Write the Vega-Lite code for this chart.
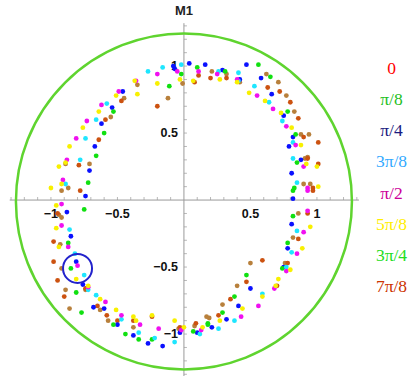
{
  "$schema": "https://vega.github.io/schema/vega-lite/v6.json",
  "padding": 0,
  "background": "white",
  "config": {"view": {"stroke": null}, "concat": {"spacing": 0}},
  "resolve": {"scale": {"x": "independent", "y": "independent", "color": "independent"}},
  "datasets": {
    "pts": [
      {"x":-0.01,"y":0.87,"s":"0"},{"x":-0.12,"y":0.76,"s":"0"},{"x":-0.35,"y":0.86,"s":"0"},{"x":-0.45,"y":0.76,"s":"0"},{"x":-0.55,"y":0.62,"s":"0"},{"x":-0.89,"y":0.27,"s":"0"},{"x":-0.71,"y":0.27,"s":"0"},{"x":-0.87,"y":0.09,"s":"0"},{"x":0.21,"y":0.96,"s":"0"},{"x":0.32,"y":0.94,"s":"0"},{"x":0.42,"y":0.88,"s":"0"},{"x":0.62,"y":0.94,"s":"0"},{"x":0.71,"y":0.88,"s":"0"},{"x":0.77,"y":0.78,"s":"0"},{"x":0.83,"y":0.66,"s":"0"},{"x":0.88,"y":0.49,"s":"0"},{"x":0.94,"y":0.49,"s":"0"},{"x":0.91,"y":0.31,"s":"0"},{"x":0.93,"y":0.32,"s":"0"},{"x":0.90,"y":0.12,"s":"0"},{"x":0.95,"y":0.12,"s":"0"},{"x":-0.92,"y":0.07,"s":"0"},{"x":-0.94,"y":-0.11,"s":"0"},{"x":-0.92,"y":-0.13,"s":"0"},{"x":-0.93,"y":-0.33,"s":"0"},{"x":-0.92,"y":-0.51,"s":"0"},{"x":-0.89,"y":-0.67,"s":"0"},{"x":-0.74,"y":-0.67,"s":"0"},{"x":-0.86,"y":-0.81,"s":"0"},{"x":-0.63,"y":-0.82,"s":"0"},{"x":-0.57,"y":-0.90,"s":"0"},{"x":-0.38,"y":-0.95,"s":"0"},{"x":-0.04,"y":-0.96,"s":"0"},{"x":0.08,"y":-0.94,"s":"0"},{"x":0.17,"y":-0.87,"s":"0"},{"x":0.86,"y":-0.10,"s":"0"},{"x":0.82,"y":-0.28,"s":"0"},{"x":0.50,"y":-0.47,"s":"0"},{"x":0.76,"y":-0.47,"s":"0"},{"x":0.40,"y":-0.64,"s":"0"},{"x":0.29,"y":-0.78,"s":"0"},{"x":0.19,"y":-0.88,"s":"0"},
      {"x":-0.2,"y":0.70,"s":"7π/8"},{"x":-0.47,"y":0.74,"s":"7π/8"},{"x":-0.59,"y":0.60,"s":"7π/8"},{"x":-0.64,"y":0.45,"s":"7π/8"},{"x":-0.79,"y":0.26,"s":"7π/8"},{"x":-0.78,"y":0.07,"s":"7π/8"},{"x":0.11,"y":0.93,"s":"7π/8"},{"x":0.08,"y":0.88,"s":"7π/8"},{"x":0.20,"y":0.91,"s":"7π/8"},{"x":0.32,"y":0.91,"s":"7π/8"},{"x":0.63,"y":0.84,"s":"7π/8"},{"x":0.72,"y":0.81,"s":"7π/8"},{"x":0.80,"y":0.73,"s":"7π/8"},{"x":0.86,"y":0.61,"s":"7π/8"},{"x":0.90,"y":0.47,"s":"7π/8"},{"x":1.01,"y":0.43,"s":"7π/8"},{"x":0.93,"y":0.31,"s":"7π/8"},{"x":1.01,"y":0.27,"s":"7π/8"},{"x":0.97,"y":0.09,"s":"7π/8"},{"x":-0.95,"y":-0.10,"s":"7π/8"},{"x":-0.98,"y":-0.31,"s":"7π/8"},{"x":-0.98,"y":-0.46,"s":"7π/8"},{"x":-0.95,"y":-0.60,"s":"7π/8"},{"x":-0.74,"y":-0.66,"s":"7π/8"},{"x":-0.90,"y":-0.72,"s":"7π/8"},{"x":-0.65,"y":-0.79,"s":"7π/8"},{"x":-0.58,"y":-0.86,"s":"7π/8"},{"x":-0.50,"y":-0.90,"s":"7π/8"},{"x":-0.38,"y":-0.90,"s":"7π/8"},{"x":-0.24,"y":-0.87,"s":"7π/8"},{"x":-0.03,"y":-0.95,"s":"7π/8"},{"x":0.09,"y":-0.92,"s":"7π/8"},{"x":0.97,"y":0.07,"s":"7π/8"},{"x":0.93,"y":-0.10,"s":"7π/8"},{"x":0.86,"y":-0.29,"s":"7π/8"},{"x":0.59,"y":-0.45,"s":"7π/8"},{"x":0.78,"y":-0.47,"s":"7π/8"},{"x":0.47,"y":-0.61,"s":"7π/8"},{"x":0.70,"y":-0.64,"s":"7π/8"},{"x":0.35,"y":-0.74,"s":"7π/8"},{"x":0.26,"y":-0.86,"s":"7π/8"},
      {"x":0.04,"y":1.02,"s":"π/4"},{"x":-0.08,"y":1.0,"s":"π/4"},{"x":-0.07,"y":0.98,"s":"π/4"},{"x":-0.46,"y":0.81,"s":"π/4"},{"x":-0.54,"y":0.69,"s":"π/4"},{"x":-0.62,"y":0.57,"s":"π/4"},{"x":-0.67,"y":0.40,"s":"π/4"},{"x":-0.71,"y":0.22,"s":"π/4"},{"x":0.16,"y":1.01,"s":"π/4"},{"x":0.29,"y":0.97,"s":"π/4"},{"x":0.47,"y":1.01,"s":"π/4"},{"x":0.58,"y":0.91,"s":"π/4"},{"x":0.42,"y":0.90,"s":"π/4"},{"x":0.66,"y":0.79,"s":"π/4"},{"x":0.75,"y":0.63,"s":"π/4"},{"x":0.82,"y":0.47,"s":"π/4"},{"x":0.79,"y":0.40,"s":"π/4"},{"x":0.88,"y":0.30,"s":"π/4"},{"x":0.81,"y":0.20,"s":"π/4"},{"x":-0.74,"y":0.03,"s":"π/4"},{"x":-0.88,"y":-0.09,"s":"π/4"},{"x":-0.85,"y":-0.27,"s":"π/4"},{"x":-0.81,"y":-0.46,"s":"π/4"},{"x":-0.76,"y":-0.63,"s":"π/4"},{"x":-0.68,"y":-0.80,"s":"π/4"},{"x":-0.60,"y":-0.81,"s":"π/4"},{"x":-0.50,"y":-0.93,"s":"π/4"},{"x":-0.38,"y":-1.01,"s":"π/4"},{"x":-0.27,"y":-1.07,"s":"π/4"},{"x":-0.16,"y":-1.09,"s":"π/4"},{"x":-0.03,"y":-0.99,"s":"π/4"},{"x":0.10,"y":-0.99,"s":"π/4"},{"x":0.82,"y":0.01,"s":"π/4"},{"x":0.81,"y":-0.18,"s":"π/4"},{"x":0.78,"y":-0.36,"s":"π/4"},{"x":0.75,"y":-0.50,"s":"π/4"},{"x":0.50,"y":-0.66,"s":"π/4"},{"x":0.41,"y":-0.79,"s":"π/4"},{"x":0.32,"y":-0.89,"s":"π/4"},{"x":0.21,"y":-0.95,"s":"π/4"},
      {"x":-0.02,"y":0.94,"s":"3π/4"},{"x":-0.11,"y":0.85,"s":"3π/4"},{"x":-0.53,"y":0.66,"s":"3π/4"},{"x":-0.60,"y":0.50,"s":"3π/4"},{"x":-0.66,"y":0.33,"s":"3π/4"},{"x":-0.72,"y":0.13,"s":"3π/4"},{"x":0.10,"y":0.99,"s":"3π/4"},{"x":0.31,"y":0.96,"s":"3π/4"},{"x":0.56,"y":1.01,"s":"3π/4"},{"x":0.65,"y":0.92,"s":"3π/4"},{"x":0.78,"y":0.66,"s":"3π/4"},{"x":0.84,"y":0.49,"s":"3π/4"},{"x":0.85,"y":0.28,"s":"3π/4"},{"x":0.83,"y":0.09,"s":"3π/4"},{"x":-0.75,"y":-0.07,"s":"3π/4"},{"x":-0.87,"y":-0.32,"s":"3π/4"},{"x":-0.85,"y":-0.51,"s":"3π/4"},{"x":-0.81,"y":-0.69,"s":"3π/4"},{"x":-0.77,"y":-0.84,"s":"3π/4"},{"x":-0.53,"y":-0.93,"s":"3π/4"},{"x":-0.44,"y":-1.0,"s":"3π/4"},{"x":-0.34,"y":-1.04,"s":"3π/4"},{"x":-0.24,"y":-1.04,"s":"3π/4"},{"x":0.07,"y":-0.98,"s":"3π/4"},{"x":0.18,"y":-0.92,"s":"3π/4"},{"x":0.82,"y":0.07,"s":"3π/4"},{"x":0.82,"y":-0.12,"s":"3π/4"},{"x":0.78,"y":-0.32,"s":"3π/4"},{"x":0.74,"y":-0.51,"s":"3π/4"},{"x":0.47,"y":-0.56,"s":"3π/4"},{"x":0.38,"y":-0.72,"s":"3π/4"},{"x":0.29,"y":-0.84,"s":"3π/4"},{"x":0.18,"y":-0.93,"s":"3π/4"},
      {"x":-0.02,"y":1.01,"s":"3π/8"},{"x":-0.16,"y":0.99,"s":"3π/8"},{"x":-0.27,"y":0.96,"s":"3π/8"},{"x":-0.58,"y":0.72,"s":"3π/8"},{"x":-0.66,"y":0.60,"s":"3π/8"},{"x":-0.74,"y":0.46,"s":"3π/8"},{"x":-0.78,"y":0.30,"s":"3π/8"},{"x":-0.89,"y":0.12,"s":"3π/8"},{"x":0.41,"y":0.95,"s":"3π/8"},{"x":0.41,"y":0.89,"s":"3π/8"},{"x":0.53,"y":0.85,"s":"3π/8"},{"x":0.64,"y":0.73,"s":"3π/8"},{"x":0.74,"y":0.59,"s":"3π/8"},{"x":0.82,"y":0.43,"s":"3π/8"},{"x":0.82,"y":0.31,"s":"3π/8"},{"x":0.85,"y":0.13,"s":"3π/8"},{"x":0.26,"y":0.96,"s":"3π/8"},{"x":-0.86,"y":-0.22,"s":"3π/8"},{"x":-0.82,"y":-0.40,"s":"3π/8"},{"x":-0.75,"y":-0.56,"s":"3π/8"},{"x":-0.72,"y":-0.67,"s":"3π/8"},{"x":-0.66,"y":-0.71,"s":"3π/8"},{"x":-0.47,"y":-0.89,"s":"3π/8"},{"x":-0.34,"y":-0.99,"s":"3π/8"},{"x":-0.22,"y":-1.03,"s":"3π/8"},{"x":-0.07,"y":-1.06,"s":"3π/8"},{"x":0.12,"y":-1.0,"s":"3π/8"},{"x":0.85,"y":-0.23,"s":"3π/8"},{"x":0.81,"y":-0.39,"s":"3π/8"},{"x":0.77,"y":-0.50,"s":"3π/8"},{"x":0.59,"y":-0.70,"s":"3π/8"},{"x":0.38,"y":-0.90,"s":"3π/8"},{"x":0.26,"y":-0.96,"s":"3π/8"},
      {"x":-0.05,"y":0.96,"s":"π/2"},{"x":-0.20,"y":0.94,"s":"π/2"},{"x":-0.36,"y":0.89,"s":"π/2"},{"x":-0.49,"y":0.81,"s":"π/2"},{"x":-0.62,"y":0.71,"s":"π/2"},{"x":-0.73,"y":0.59,"s":"π/2"},{"x":-0.81,"y":0.46,"s":"π/2"},{"x":-0.88,"y":0.30,"s":"π/2"},{"x":-0.91,"y":0.15,"s":"π/2"},{"x":0.11,"y":0.96,"s":"π/2"},{"x":0.25,"y":0.94,"s":"π/2"},{"x":0.40,"y":0.90,"s":"π/2"},{"x":0.55,"y":0.78,"s":"π/2"},{"x":0.67,"y":0.68,"s":"π/2"},{"x":0.77,"y":0.55,"s":"π/2"},{"x":0.84,"y":0.41,"s":"π/2"},{"x":0.90,"y":0.25,"s":"π/2"},{"x":0.93,"y":0.09,"s":"π/2"},{"x":-0.92,"y":-0.03,"s":"π/2"},{"x":-0.92,"y":-0.19,"s":"π/2"},{"x":-0.87,"y":-0.35,"s":"π/2"},{"x":-0.80,"y":-0.49,"s":"π/2"},{"x":-0.72,"y":-0.65,"s":"π/2"},{"x":-0.59,"y":-0.76,"s":"π/2"},{"x":-0.47,"y":-0.86,"s":"π/2"},{"x":-0.33,"y":-0.93,"s":"π/2"},{"x":-0.19,"y":-0.96,"s":"π/2"},{"x":-0.02,"y":-0.97,"s":"π/2"},{"x":0.13,"y":-0.97,"s":"π/2"},{"x":0.93,"y":0.07,"s":"π/2"},{"x":0.93,"y":-0.08,"s":"π/2"},{"x":0.90,"y":-0.24,"s":"π/2"},{"x":0.85,"y":-0.40,"s":"π/2"},{"x":0.77,"y":-0.53,"s":"π/2"},{"x":0.68,"y":-0.66,"s":"π/2"},{"x":0.56,"y":-0.79,"s":"π/2"},{"x":0.43,"y":-0.87,"s":"π/2"},
      {"x":-0.03,"y":0.90,"s":"5π/8"},{"x":-0.20,"y":0.87,"s":"5π/8"},{"x":-0.37,"y":0.89,"s":"5π/8"},{"x":-0.35,"y":0.79,"s":"5π/8"},{"x":-0.51,"y":0.78,"s":"5π/8"},{"x":-0.64,"y":0.66,"s":"5π/8"},{"x":-0.76,"y":0.54,"s":"5π/8"},{"x":-0.86,"y":0.40,"s":"5π/8"},{"x":-0.89,"y":0.28,"s":"5π/8"},{"x":-0.94,"y":0.25,"s":"5π/8"},{"x":-0.92,"y":0.12,"s":"5π/8"},{"x":-1.0,"y":0.09,"s":"5π/8"},{"x":0.07,"y":0.89,"s":"5π/8"},{"x":0.27,"y":0.90,"s":"5π/8"},{"x":0.40,"y":0.88,"s":"5π/8"},{"x":0.49,"y":0.80,"s":"5π/8"},{"x":0.61,"y":0.74,"s":"5π/8"},{"x":0.73,"y":0.65,"s":"5π/8"},{"x":0.81,"y":0.54,"s":"5π/8"},{"x":0.88,"y":0.41,"s":"5π/8"},{"x":0.92,"y":0.27,"s":"5π/8"},{"x":1.0,"y":0.25,"s":"5π/8"},{"x":1.01,"y":0.10,"s":"5π/8"},{"x":-0.96,"y":-0.04,"s":"5π/8"},{"x":-0.96,"y":-0.21,"s":"5π/8"},{"x":-0.94,"y":-0.35,"s":"5π/8"},{"x":-0.81,"y":-0.59,"s":"5π/8"},{"x":-0.72,"y":-0.64,"s":"5π/8"},{"x":-0.63,"y":-0.74,"s":"5π/8"},{"x":-0.51,"y":-0.82,"s":"5π/8"},{"x":-0.38,"y":-0.87,"s":"5π/8"},{"x":-0.36,"y":-0.90,"s":"5π/8"},{"x":-0.24,"y":-0.86,"s":"5π/8"},{"x":-0.07,"y":-0.90,"s":"5π/8"},{"x":0.0,"y":-0.95,"s":"5π/8"},{"x":0.14,"y":-0.95,"s":"5π/8"},{"x":0.95,"y":-0.20,"s":"5π/8"},{"x":0.89,"y":-0.36,"s":"5π/8"},{"x":0.80,"y":-0.52,"s":"5π/8"},{"x":0.71,"y":-0.59,"s":"5π/8"},{"x":0.69,"y":-0.64,"s":"5π/8"},{"x":0.59,"y":-0.72,"s":"5π/8"},{"x":0.44,"y":-0.81,"s":"5π/8"},{"x":0.27,"y":-0.90,"s":"5π/8"}
    ],
    "axlines": [
      {"x":-1.31,"x2":1.316,"y":0,"y2":0},
      {"x":0,"x2":0,"y":1.32,"y2":-1.32}
    ],
    "xticks": [{"v":-1.3},{"v":-1.2},{"v":-1.1},{"v":-1.0},{"v":-0.9},{"v":-0.8},{"v":-0.7},{"v":-0.6},{"v":-0.5},{"v":-0.4},{"v":-0.3},{"v":-0.2},{"v":-0.1},{"v":0.1},{"v":0.2},{"v":0.3},{"v":0.4},{"v":0.5},{"v":0.6},{"v":0.7},{"v":0.8},{"v":0.9},{"v":1.0},{"v":1.1},{"v":1.2},{"v":1.3}],
    "labels": [{"v":-1,"t":"−1"},{"v":-0.5,"t":"−0.5"},{"v":0.5,"t":"0.5"},{"v":1,"t":"1"}],
    "legend": [{"label":"0"},{"label":"π/8"},{"label":"π/4"},{"label":"3π/8"},{"label":"π/2"},{"label":"5π/8"},{"label":"3π/4"},{"label":"7π/8"}]
  },
  "hconcat": [
    {
      "width": 366,
      "height": 376,
      "layer": [
        {
          "data": {"name": "axlines"},
          "mark": {"type": "rule", "color": "#9a9a9a", "strokeWidth": 1},
          "encoding": {
            "x": {"field": "x", "type": "quantitative", "scale": {"domain": [-1.383, 1.369], "nice": false, "zero": false}, "axis": null},
            "x2": {"field": "x2"},
            "y": {"field": "y", "type": "quantitative", "scale": {"domain": [-1.313, 1.493], "nice": false, "zero": false}, "axis": null},
            "y2": {"field": "y2"}
          }
        },
        {
          "data": {"name": "xticks"},
          "mark": {"type": "tick", "orient": "vertical", "color": "#9a9a9a", "size": 3, "thickness": 1, "yOffset": -1.5},
          "encoding": {
            "x": {"field": "v", "type": "quantitative", "scale": {"domain": [-1.383, 1.369], "nice": false, "zero": false}, "axis": null},
            "y": {"datum": 0, "type": "quantitative", "scale": {"domain": [-1.313, 1.493], "nice": false, "zero": false}, "axis": null}
          }
        },
        {
          "data": {"name": "xticks"},
          "mark": {"type": "tick", "orient": "horizontal", "color": "#9a9a9a", "size": 3, "thickness": 1, "xOffset": 1.5},
          "encoding": {
            "y": {"field": "v", "type": "quantitative", "scale": {"domain": [-1.313, 1.493], "nice": false, "zero": false}, "axis": null},
            "x": {"datum": 0, "type": "quantitative", "scale": {"domain": [-1.383, 1.369], "nice": false, "zero": false}, "axis": null}
          }
        },
        {
          "data": {"name": "labels"},
          "mark": {"type": "text", "font": "Liberation Sans", "fontWeight": "bold", "fontSize": 12.5, "color": "#111", "align": "center", "baseline": "middle", "dy": 14},
          "encoding": {
            "x": {"field": "v", "type": "quantitative", "scale": {"domain": [-1.383, 1.369], "nice": false, "zero": false}, "axis": null},
            "y": {"datum": 0, "type": "quantitative", "scale": {"domain": [-1.313, 1.493], "nice": false, "zero": false}, "axis": null},
            "text": {"field": "t"}
          }
        },
        {
          "data": {"name": "labels"},
          "mark": {"type": "text", "font": "Liberation Sans", "fontWeight": "bold", "fontSize": 12.5, "color": "#111", "align": "right", "baseline": "middle", "dx": -6},
          "encoding": {
            "y": {"field": "v", "type": "quantitative", "scale": {"domain": [-1.313, 1.493], "nice": false, "zero": false}, "axis": null},
            "x": {"datum": 0, "type": "quantitative", "scale": {"domain": [-1.383, 1.369], "nice": false, "zero": false}, "axis": null},
            "text": {"field": "t"}
          }
        },
        {
          "data": {"values": [{"t": "M1"}]},
          "mark": {"type": "text", "font": "Liberation Sans", "fontWeight": "bold", "fontSize": 13, "color": "#222", "align": "center", "baseline": "middle"},
          "encoding": {
            "x": {"datum": 0, "type": "quantitative", "scale": {"domain": [-1.383, 1.369], "nice": false, "zero": false}, "axis": null},
            "y": {"datum": 1.41, "type": "quantitative", "scale": {"domain": [-1.313, 1.493], "nice": false, "zero": false}, "axis": null},
            "text": {"field": "t"}
          }
        },
        {
          "data": {"name": "pts"},
          "mark": {"type": "point", "filled": true, "shape": "circle", "size": 23, "opacity": 1},
          "encoding": {
            "x": {"field": "x", "type": "quantitative", "scale": {"domain": [-1.383, 1.369], "nice": false, "zero": false}, "axis": null},
            "y": {"field": "y", "type": "quantitative", "scale": {"domain": [-1.313, 1.493], "nice": false, "zero": false}, "axis": null},
            "color": {"field": "s", "type": "nominal", "legend": null,
              "scale": {"domain": ["0","π/8","π/4","3π/8","π/2","5π/8","3π/4","7π/8"],
                        "range": ["#b8803c","#10e010","#0a10ff","#1ee6ff","#f010f0","#f8f000","#10e010","#cc5210"]}}
          }
        },
        {
          "data": {"values": [{"x": 0, "y": -0.01}]},
          "mark": {"type": "point", "shape": "circle", "filled": false, "size": 112896, "stroke": "#5fd42f", "strokeWidth": 2.5, "opacity": 1},
          "encoding": {
            "x": {"field": "x", "type": "quantitative", "scale": {"domain": [-1.383, 1.369], "nice": false, "zero": false}, "axis": null},
            "y": {"field": "y", "type": "quantitative", "scale": {"domain": [-1.313, 1.493], "nice": false, "zero": false}, "axis": null}
          }
        },
        {
          "data": {"values": [{"x": -0.80, "y": -0.51}]},
          "mark": {"type": "point", "shape": "circle", "filled": false, "size": 841, "stroke": "#2222cc", "strokeWidth": 2, "opacity": 1},
          "encoding": {
            "x": {"field": "x", "type": "quantitative", "scale": {"domain": [-1.383, 1.369], "nice": false, "zero": false}, "axis": null},
            "y": {"field": "y", "type": "quantitative", "scale": {"domain": [-1.313, 1.493], "nice": false, "zero": false}, "axis": null}
          }
        }
      ]
    },
    {
      "width": 45,
      "height": 376,
      "data": {"name": "legend"},
      "mark": {"type": "text", "font": "Liberation Serif", "fontSize": 17.5, "baseline": "middle", "align": "center", "dx": 3},
      "encoding": {
        "y": {"field": "label", "type": "ordinal", "sort": null, "scale": {"type": "point", "range": [53, 303]}, "axis": null},
        "text": {"field": "label"},
        "color": {"field": "label", "type": "nominal", "legend": null,
          "scale": {"domain": ["0","π/8","π/4","3π/8","π/2","5π/8","3π/4","7π/8"],
                    "range": ["#ff0000","#1fbf1f","#1a1a80","#33aaff","#cc0099","#ffee00","#22dd22","#cc3300"]}}
      }
    }
  ]
}
